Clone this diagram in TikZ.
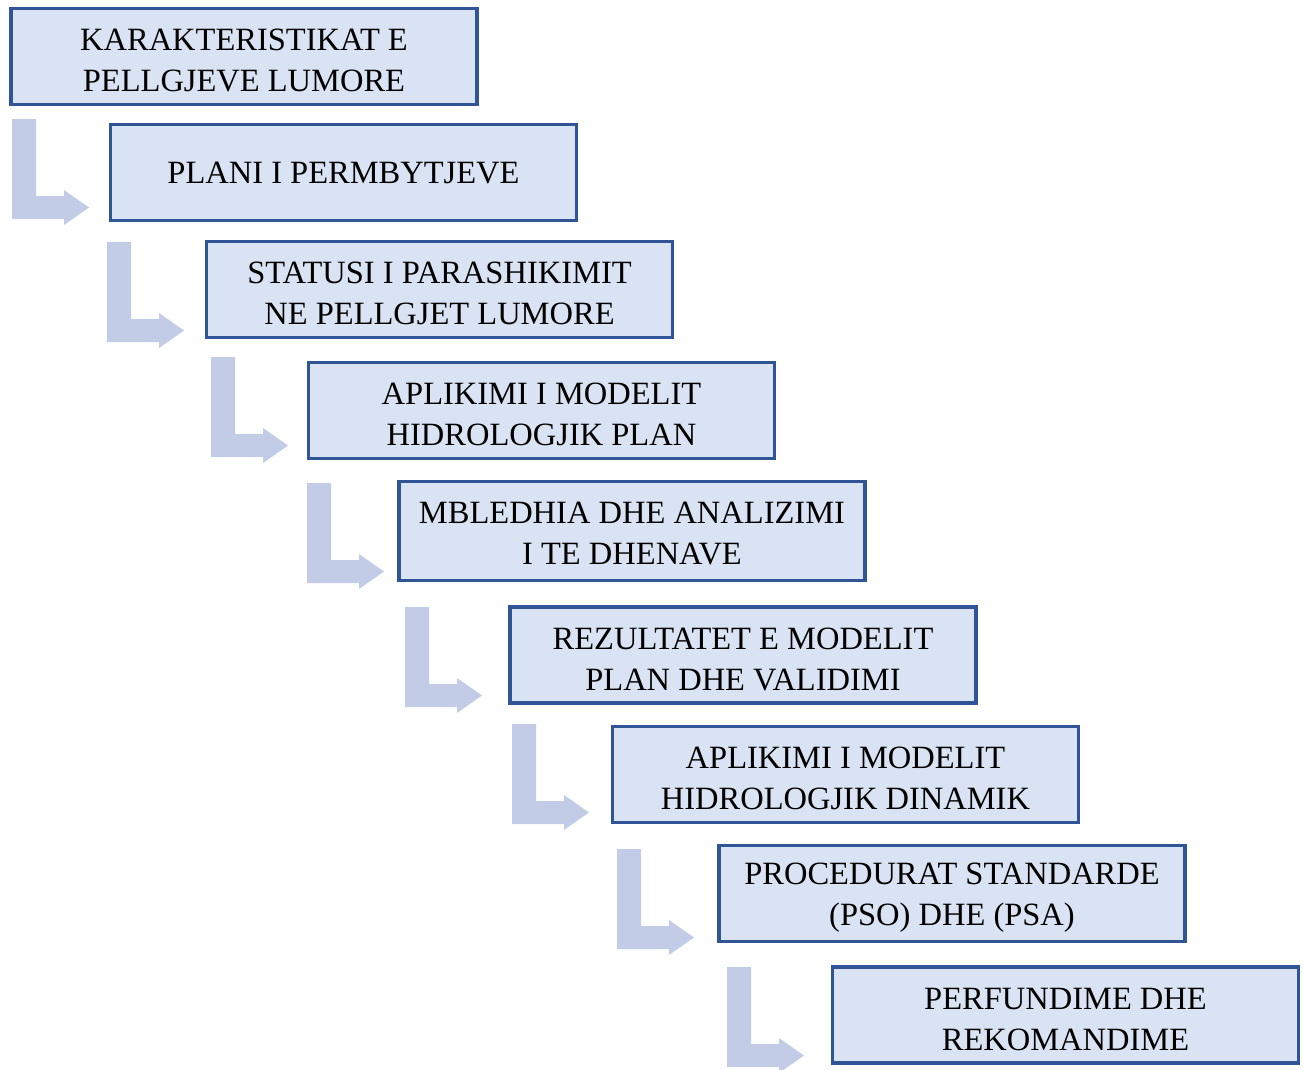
\documentclass[tikz,border=0pt]{standalone}
\usepackage{fontspec}
\setmainfont{Liberation Serif}
\definecolor{boxfill}{HTML}{DAE3F3}
\definecolor{boxline}{HTML}{2F5597}
\definecolor{arrowfill}{HTML}{C2CCE7}
\newcommand\Larrow[2]{%
  \fill[arrowfill] (#1,#2) -- ++(24,0) -- ++(0,77) -- ++(28,0) -- ++(0,-6) -- ++(25,17.5) -- ++(-25,17.5) -- ++(0,-6) -- ++(-52,0) -- cycle;}
\begin{document}
\begin{tikzpicture}[x=1pt,y=-1pt,
  stagebox/.style={draw=boxline,line width=3.2pt,fill=boxfill,minimum width=466pt,minimum height=96pt,inner sep=0pt},
  stagetext/.style={align=center,inner sep=0pt,font=\fontsize{32.5}{41}\selectfont}]
\useasboundingbox (0,0) rectangle (1303,1069);
\begin{scope}
\clip (0,0) rectangle (1303,1069);
\Larrow{12}{119}
\Larrow{107}{242}
\Larrow{211}{357}
\Larrow{307}{483}
\Larrow{405}{607}
\Larrow{512}{724}
\Larrow{617}{849}
\Larrow{727}{967}
\end{scope}
\node[stagebox] (b1) at (244,56.5) {};
\node[stagebox] (b2) at (343.5,172.5) {};
\node[stagebox] (b3) at (439.5,289.5) {};
\node[stagebox] (b4) at (541.5,410.5) {};
\node[stagebox,minimum height=99pt] (b5) at (632,531) {};
\node[stagebox] (b6) at (743,655) {};
\node[stagebox] (b7) at (845.5,774.5) {};
\node[stagebox] (b8) at (952,893.5) {};
\node[stagebox] (b9) at (1065.5,1015) {};
\node[stagetext] (t1) at ([yshift=-4pt]b1.center) {KARAKTERISTIKAT E\\PELLGJEVE LUMORE};
\node[stagetext] (t2) at ([yshift=-1pt]b2.center) {PLANI I PERMBYTJEVE};
\node[stagetext] (t3) at ([yshift=-4pt]b3.center) {STATUSI I PARASHIKIMIT\\NE PELLGJET LUMORE};
\node[stagetext] (t4) at ([yshift=-4pt]b4.center) {APLIKIMI I MODELIT\\HIDROLOGJIK PLAN};
\node[stagetext] (t5) at ([yshift=-3pt]b5.center) {MBLEDHIA DHE ANALIZIMI\\I TE DHENAVE};
\node[stagetext] (t6) at ([yshift=-4pt]b6.center) {REZULTATET E MODELIT\\PLAN DHE VALIDIMI};
\node[stagetext] (t7) at ([yshift=-4pt]b7.center) {APLIKIMI I MODELIT\\HIDROLOGJIK DINAMIK};
\node[stagetext] (t8) at ([yshift=-4pt]b8.center) {PROCEDURAT STANDARDE\\(PSO) DHE (PSA)};
\node[stagetext] (t9) at ([yshift=-4pt]b9.center) {PERFUNDIME DHE\\REKOMANDIME};
\end{tikzpicture}
\end{document}
